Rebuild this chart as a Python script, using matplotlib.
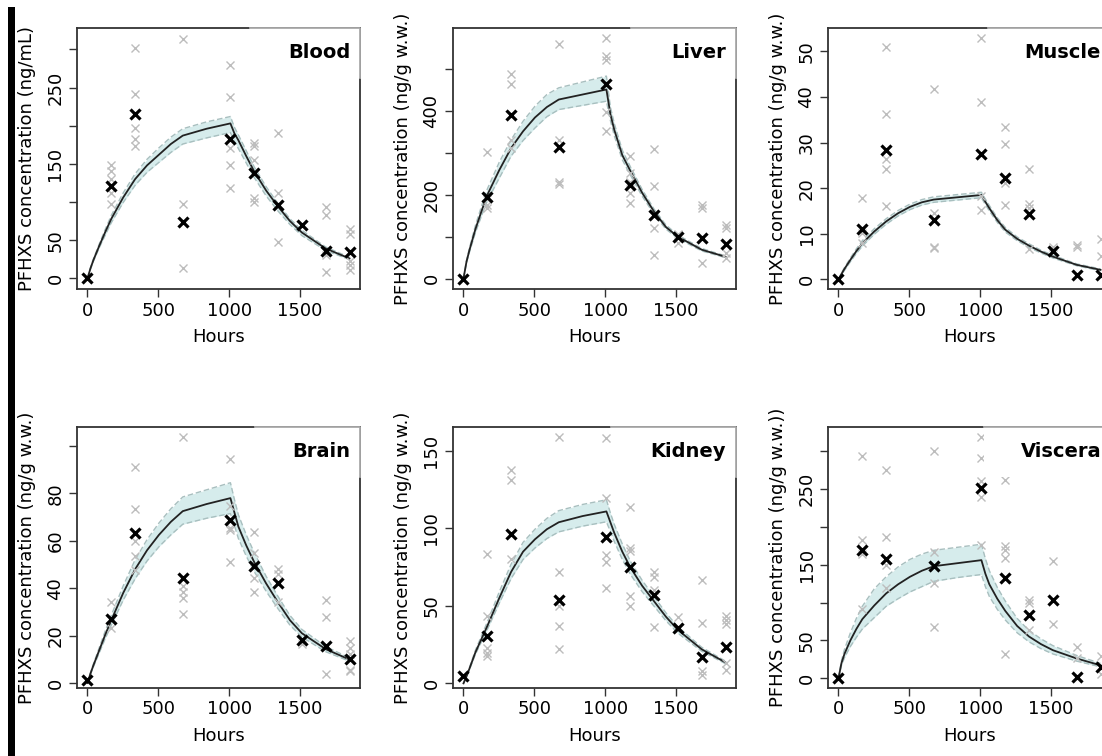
import matplotlib
matplotlib.use("Agg")
import matplotlib.pyplot as plt
from matplotlib.patches import Rectangle
from matplotlib.lines import Line2D

# sampling times (hours) and model output grid
obs_hours = [0, 168, 336, 672, 1008, 1176, 1344, 1512, 1680, 1848]
model_hours = [0, 21, 42, 84, 126, 168, 252, 336, 420, 504, 588, 672, 840, 1008,
               1036, 1064, 1120, 1176, 1260, 1344, 1428, 1512, 1680, 1848]

organs = ["Blood", "Liver", "Muscle", "Brain", "Kidney", "Viscera"]
ylabels = ["PFHXS concentration (ng/mL)",
           "PFHXS concentration (ng/g w.w.)",
           "PFHXS concentration (ng/g w.w.)",
           "PFHXS concentration (ng/g w.w.)",
           "PFHXS concentration (ng/g w.w.)",
           "PFHXS concentration (ng/g w.w.))"]

# group means (black crosses)
blood_mean = [0, 121, 215, 74, 182, 138, 96, 70, 36, 34]
liver_mean = [0, 196, 390, 314, 466, 223, 151, 99, 96, 82]
muscle_mean = [0, 11, 28.4, 13, 27.5, 22.3, 14.3, 6.3, 0.9, 0.9]
brain_mean = [1.4, 27, 63.2, 44.3, 68.9, 49.4, 42.3, 18, 15.6, 10]
kidney_mean = [4.7, 30.4, 96.2, 54, 94.7, 74.8, 57.2, 35.8, 17.1, 23.4]
viscera_mean = [0, 169.5, 157, 148, 252, 132, 83, 103, 2.2, 14.6]

# individual animals (grey crosses), one list per sampling time
blood_indiv = [[], [148, 140, 130, 112, 97], [302, 241, 197, 182, 174], [314, 97, 14],
               [279, 237, 171, 148, 119], [177, 174, 155, 105, 100], [190, 112, 47], [],
               [93, 83, 30, 8], [64, 58, 23, 17, 11]]
liver_indiv = [[], [302, 189, 177, 169], [490, 464, 332, 312], [561, 332, 231, 227],
               [575, 531, 523, 398, 352], [293, 253, 230, 205, 180], [310, 221, 122, 56],
               [106, 86], [177, 169, 38], [127, 122, 62, 50]]
muscle_indiv = [[], [17.8, 10.1, 8], [50.9, 36.2, 26.4, 24.2, 16.1], [41.8, 14.5, 7.2, 6.8],
                [52.9, 38.8, 18.3, 15.2], [33.3, 29.7, 21.1, 16.3], [24.2, 16.5, 15.6, 6.6],
                [7.0, 6.5], [7.5, 7.2], [8.9, 5.1]]
brain_indiv = [[], [34, 26.7, 23], [91.3, 73.4, 60, 53.7, 47.6], [103.7, 40.9, 38.6, 35.8, 29.1],
               [94.5, 74.6, 65.3, 64.6, 51.1], [63.6, 54.7, 44.3, 38.4], [48.3, 46.2, 34.1],
               [18.5, 16.3], [35.1, 27.7, 3.8], [17.8, 14.9, 12.1, 5.7, 5]]
kidney_indiv = [[4], [83.4, 43.3, 22.9, 19.7, 17.6], [138, 131, 80.1], [159, 71.6, 49.7, 36.9, 21.9],
                [158.6, 119.4, 82.9, 78.6, 61.5], [114, 87.2, 85.7, 56.1, 49.7], [72.2, 68.6, 60.4, 36.4],
                [42.6], [66.9, 39, 7.9, 5.1], [43.7, 40.7, 38.4, 13.3, 8.6]]
viscera_indiv = [[], [294, 182, 164, 91.6], [275, 187, 150, 119], [300, 167, 126, 67],
                 [319, 291, 261, 240, 176], [262, 175, 170, 159, 32], [103, 100, 64],
                 [155, 72], [41, 26.5], [28.8, 5.3]]

# model prediction (median and band), read at model_hours
blood_pred = [0, 13, 24, 43, 61, 78, 106, 130, 148, 162, 176, 187, 196, 203,
              190, 181, 160, 140, 115, 94, 75, 60, 39, 26]
blood_hi = [0, 14, 25.5, 45.5, 64.5, 82.5, 112, 137, 156, 171, 185, 196, 205, 212,
            198, 188, 167, 146, 120, 98, 78, 63, 41, 27.5]
blood_lo = [0, 12, 22.5, 40.5, 57, 73, 99.5, 122, 139, 152, 165, 176, 184, 191,
            179, 170, 151, 132, 108, 88, 70.5, 56, 36.5, 24.5]
liver_pred = [0, 40, 68, 118, 160, 200, 259, 312, 352, 385, 410, 428, 440, 452,
              393, 355, 295, 258, 205, 160, 123, 100, 69, 52]
liver_hi = [0, 43, 73, 127, 172, 214, 278, 332, 376, 412, 440, 456, 470, 484,
            410, 370, 307, 268, 213, 166, 128, 104, 72, 54]
liver_lo = [0, 37, 63, 110, 149, 186, 240, 293, 330, 360, 387, 404, 414, 424,
            378, 341, 284, 248, 197, 154, 118, 96, 66, 50]
muscle_pred = [0, 1.2, 2.3, 4.3, 6.2, 7.9, 10.5, 12.7, 14.5, 15.9, 16.9, 17.5, 18.0, 18.5,
               17.0, 15.6, 13.0, 10.9, 8.9, 7.4, 6.1, 5.0, 3.2, 2.1]
muscle_hi = [0, 1.4, 2.6, 4.7, 6.7, 8.5, 11.1, 13.3, 15.1, 16.5, 17.5, 18.1, 18.6, 19.1,
             17.6, 16.2, 13.5, 11.4, 9.3, 7.8, 6.4, 5.3, 3.4, 2.3]
muscle_lo = [0, 1.0, 2.0, 3.9, 5.7, 7.3, 9.9, 12.1, 13.9, 15.3, 16.3, 16.9, 17.4, 17.9,
             16.4, 15.0, 12.5, 10.4, 8.5, 7.0, 5.8, 4.7, 3.0, 1.9]
brain_pred = [0, 4, 7.5, 14, 20.5, 26.5, 38, 48, 56, 62.5, 68, 72.5, 75.5, 78,
              72, 66, 58, 51, 42, 34, 26.5, 21, 14.3, 9.9]
brain_hi = [0, 4.3, 8.1, 15.1, 22.1, 28.6, 41, 52, 60.5, 67.5, 73.5, 78.5, 81.5, 84.5,
            77.5, 71, 62.5, 55, 45, 36.5, 28.5, 22.6, 15.4, 10.6]
brain_lo = [0, 3.7, 6.9, 12.9, 18.9, 24.4, 35, 44, 51.5, 57.5, 62.5, 67, 69.5, 71.5,
            66.5, 61, 53.5, 47, 38.7, 31.3, 24.4, 19.4, 13.2, 9.2]
kidney_pred = [0, 4.5, 9.5, 20, 28.5, 37, 55, 72, 85, 93, 99.5, 104, 108, 111,
               104, 97, 85, 75, 63, 53, 43, 34.5, 22, 13.5]
kidney_hi = [0, 4.8, 10.2, 21.4, 30.5, 39.6, 59, 77, 91, 99.5, 106.5, 111.5, 115.5, 118.5,
             110, 102.5, 90, 79, 66.5, 56, 45.5, 36.5, 23.3, 14.3]
kidney_lo = [0, 4.2, 8.9, 18.8, 26.8, 34.8, 51.7, 67.7, 80, 87.4, 93.5, 97.8, 101.5, 104.3,
             98, 91.5, 80, 70.5, 59.2, 49.8, 40.4, 32.4, 20.7, 12.7]
viscera_pred = [0, 20, 32, 50, 65, 78, 96, 112, 124, 134, 142, 148, 152, 156,
                138, 124, 105, 89, 69, 55, 45, 37, 26, 17]
viscera_hi = [0, 23, 38, 60, 79, 95, 118, 134, 147, 157, 164, 169, 173, 177,
              158, 142, 120, 102, 79, 63, 52, 43, 30, 19.5]
viscera_lo = [0, 17, 27, 42, 54, 65, 80, 95, 105, 114, 121, 128, 133, 137,
              121, 108, 91, 77, 60, 48, 39, 32, 22.5, 15]

# y ticks and which of them R kept a label for
yticks = [[0, 50, 100, 150, 200, 250, 300],
          [0, 100, 200, 300, 400, 500],
          [0, 10, 20, 30, 40, 50],
          [0, 20, 40, 60, 80, 100],
          [0, 50, 100, 150],
          [0, 50, 100, 150, 200, 250, 300]]
ytick_labels = [["0", "50", "", "150", "", "250", ""],
                ["0", "", "200", "", "400", ""],
                ["0", "10", "20", "30", "40", "50"],
                ["0", "20", "40", "60", "80", ""],
                ["0", "50", "100", "150"],
                ["0", "50", "", "150", "", "250", ""]]
xticks = [0, 500, 1000, 1500]

means = [blood_mean, liver_mean, muscle_mean, brain_mean, kidney_mean, viscera_mean]
indivs = [blood_indiv, liver_indiv, muscle_indiv, brain_indiv, kidney_indiv, viscera_indiv]
preds = [blood_pred, liver_pred, muscle_pred, brain_pred, kidney_pred, viscera_pred]
his = [blood_hi, liver_hi, muscle_hi, brain_hi, kidney_hi, viscera_hi]
los = [blood_lo, liver_lo, muscle_lo, brain_lo, kidney_lo, viscera_lo]

ylims = [(-14, 328), (-25, 599), (-2.1, 55.1), (-2.1, 108), (-3, 165.5), (-13, 332)]
box_x0 = [0.61, 0.63, 0.565, 0.63, 0.56, 0.55]

W, H = 1102, 756
fig = plt.figure(figsize=(W / 100, H / 100), dpi=100)

lefts = [77, 453, 828]
tops = [28, 427]
aw, ah = 283, 261

for i, organ in enumerate(organs):
    r, c = divmod(i, 3)
    ax = fig.add_axes([lefts[c] / W, 1 - (tops[r] + ah) / H, aw / W, ah / H])

    ax.fill_between(model_hours, los[i], his[i], color="#d6ecec", lw=0, zorder=1)
    ax.plot(model_hours, his[i], ls=(0, (4, 2)), color="#a8bfbf", lw=1, zorder=2)
    ax.plot(model_hours, los[i], ls=(0, (4, 2)), color="#a8bfbf", lw=1, zorder=2)
    ax.plot(model_hours, preds[i], color="#222222", lw=1.3, zorder=3)

    for t, vals in zip(obs_hours, indivs[i]):
        ax.plot([t] * len(vals), vals, ls="none", marker="x", ms=5.5, mew=1,
                color="#bdbdbd", zorder=4)
    ax.plot(obs_hours, means[i], ls="none", marker="x", ms=7, mew=2.3,
            color="black", zorder=5)

    ax.set_xlim(-74, 1922)
    ax.set_ylim(*ylims[i])
    ax.set_xticks(xticks)
    ax.set_xticklabels([str(x) for x in xticks])
    ax.set_yticks(yticks[i])
    ax.set_yticklabels(ytick_labels[i], rotation=90, va="center")
    ax.tick_params(labelsize=13, length=5.5, width=1, color="#333333", pad=3.5)
    ax.set_xlabel("Hours", fontsize=13, labelpad=6)
    ax.set_ylabel(ylabels[i], fontsize=13)
    ax.yaxis.set_label_coords(-0.145, 0.5)
    for sp in ax.spines.values():
        sp.set_linewidth(1.3)
        sp.set_color("#333333")

    # label box in the corner, drawn over the frame
    x0 = box_x0[i]
    ax.add_patch(Rectangle((x0, 0.81), 1 - x0, 0.19, transform=ax.transAxes,
                           facecolor="white", edgecolor="none", zorder=6, clip_on=False))
    ax.add_line(Line2D([x0, 1, 1], [1, 1, 0.81], transform=ax.transAxes,
                       color="#aaaaaa", lw=1.3, zorder=7, clip_on=False))
    ax.text(0.965, 0.905, organ, transform=ax.transAxes, ha="right", va="center",
            fontsize=14, fontweight="bold", zorder=8)

# black strip at the left edge of the original image
fig.add_artist(Rectangle((8 / W, 0), 7 / W, 749 / H, transform=fig.transFigure,
                         facecolor="black", edgecolor="none"))

fig.savefig("out.png", dpi=100)
